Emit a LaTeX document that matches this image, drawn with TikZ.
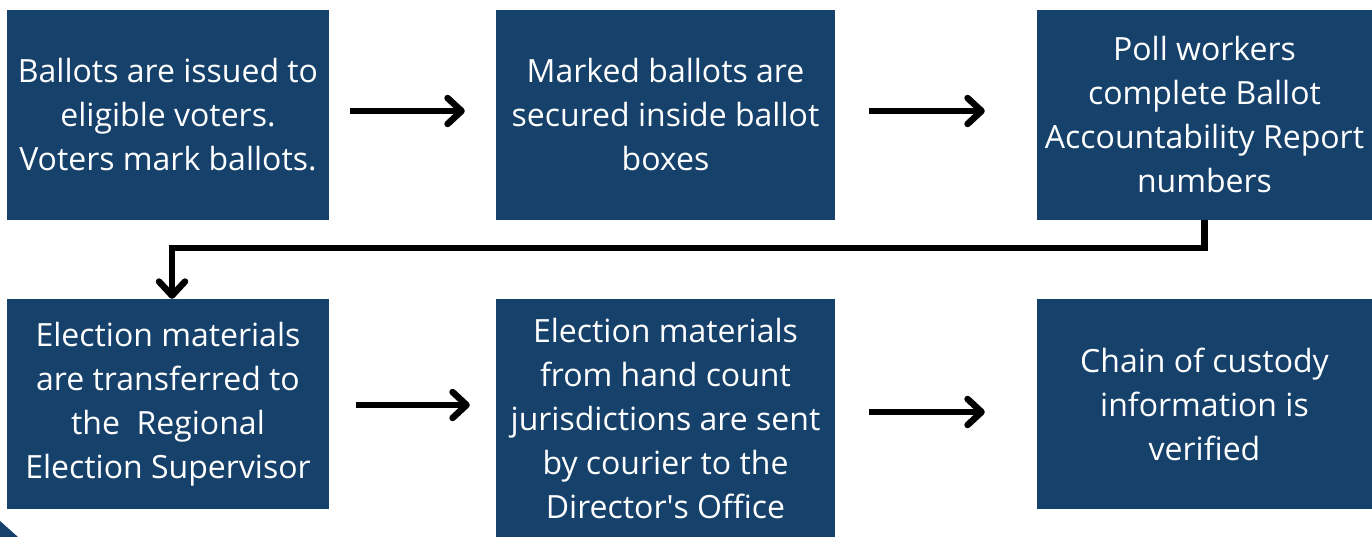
\documentclass[tikz,border=0pt]{standalone}
\usepackage{fontspec}
\setmainfont{Open Sans}
\usetikzlibrary{arrows.meta}
\definecolor{boxblue}{HTML}{15416B}
\begin{document}
\begin{tikzpicture}[x=1pt,y=-1pt,
  box/.style={fill=boxblue, text=white, align=center, inner sep=0pt,
    font=\fontsize{32}{44}\selectfont},
  wbox/.style={box, minimum width=322pt, minimum height=210pt},
  vbox/.style={box, minimum width=339pt},
  flow/.style={line width=6.5pt, -{Straight Barb[length=14pt,width=26pt,round]}}]
\useasboundingbox (0,0) rectangle (1372,537);
\fill[white] (0,0) rectangle (1372,537);
\node[wbox] (b1) at (168,115) {Ballots are issued to\\eligible voters.\\Voters mark ballots.};
\node[vbox, minimum height=210pt] (b2) at (665.5,115) {Marked ballots are\\secured inside ballot\\boxes};
\node[box, minimum width=335pt, minimum height=210pt] (b3) at (1204.5,115) {Poll workers\\complete Ballot\\Accountability Report\\numbers};
\node[wbox] (b4) at (168,404) {Election materials\\are transferred to\\the\ \ Regional\\Election Supervisor};
\node[vbox, minimum height=238pt] (b5) at (665.5,418) {Election materials\\from hand count\\jurisdictions are sent\\by courier to the\\Director\textquotesingle s Office};
\node[box, minimum width=335pt, minimum height=210pt] (b6) at (1204.5,404) {Chain of custody\\information is\\verified};
\fill[boxblue] (0,521) -- (18,537) -- (0,537) -- cycle;
\draw[flow] ([xshift=21pt,yshift=4pt]b1.east) -- ([xshift=-31pt,yshift=4pt]b2.west);
\draw[flow] ([xshift=34pt,yshift=4pt]b2.east) -- ([xshift=-52pt,yshift=4pt]b3.west);
\draw[flow] (b3.south) -- ++(0,28) -| ([xshift=4pt]b4.north);
\coordinate (a4) at ([xshift=27pt,yshift=-1pt]b4.east);
\path (a4 -| b5.west) coordinate (e4);
\draw[flow] (a4) -- ([xshift=-26pt]e4);
\coordinate (a5) at ([xshift=34pt,yshift=6pt]b5.east);
\path (a5 -| b6.west) coordinate (e5);
\draw[flow] (a5) -- ([xshift=-52pt]e5);
\end{tikzpicture}
\end{document}
